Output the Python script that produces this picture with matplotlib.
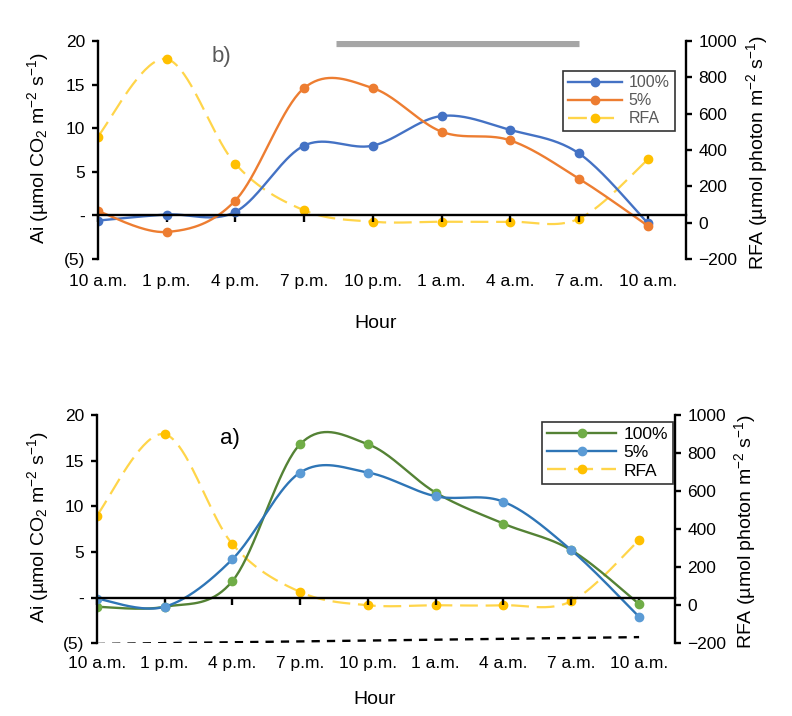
import numpy as np
import matplotlib
matplotlib.use("Agg")
import matplotlib.pyplot as plt
from matplotlib.lines import Line2D

plt.rcParams['font.family'] = ['Liberation Sans', 'DejaVu Sans']
plt.rcParams['mathtext.fontset'] = 'custom'
plt.rcParams['mathtext.rm'] = 'Liberation Sans'
plt.rcParams['mathtext.it'] = 'Liberation Sans:italic'

# categories
hours = ['10 a.m.', '1 p.m.', '4 p.m.', '7 p.m.', '10 p.m.', '1 a.m.', '4 a.m.', '7 a.m.', '10 a.m.']
ai_ticks = [-5, 0, 5, 10, 15, 20]
ai_ticklabels = ['(5)', '-', '5', '10', '15', '20']
rfa_ticks = [-200, 0, 200, 400, 600, 800, 1000]

# panel b (top)
b_100 = [-0.6, 0.1, 0.4, 8.0, 8.0, 11.4, 9.8, 7.1, -0.9]
b_5 = [0.5, -1.9, 1.7, 14.6, 14.6, 9.6, 8.6, 4.2, -1.2]
b_rfa = [474, 901, 324, 68, 5, 5, 5, 22, 348]
b_night = [3.46, 7.0]   # grey bar span (category units)

# panel a (bottom)
a_100 = [-1.0, -1.0, 1.8, 16.8, 16.8, 11.5, 8.1, 5.2, -0.7]
a_5 = [-0.1, -1.0, 4.2, 13.7, 13.7, 11.1, 10.5, 5.2, -2.1]
a_rfa = [471, 899, 322, 70, 0, 0, 0, 21, 343]
a_trend_x = [0, 8]
a_trend_y = [-5.07, -4.32]


def smooth(y, n=40):
    # Catmull-Rom style bezier like excel's smoothed lines
    x = np.arange(len(y), dtype=float)
    pts = np.column_stack([x, np.asarray(y, dtype=float)])
    p = np.vstack([pts[0], pts, pts[-1]])
    t = np.linspace(0, 1, n)[:, None]
    segs = []
    for i in range(len(pts) - 1):
        p0, p1, p2, p3 = p[i], p[i + 1], p[i + 2], p[i + 3]
        c1 = p1 + (p2 - p0) / 6
        c2 = p2 - (p3 - p1) / 6
        segs.append((1 - t) ** 3 * p1 + 3 * (1 - t) ** 2 * t * c1 + 3 * (1 - t) * t ** 2 * c2 + t ** 3 * p2)
    c = np.vstack(segs)
    return c[:, 0], c[:, 1]


def panel(rect, s100, s5, rfa, c100, m100, c5, m5, xmax, txtcol, legfs, legbox, hlen,
          tag, tagpos, hourpos, ylx, yrx):
    ax = fig.add_axes(rect)
    ax2 = ax.twinx()
    ax.set_zorder(ax2.get_zorder() + 1)
    ax.patch.set_visible(False)

    x = np.arange(len(hours))
    rfa_line = '#FFD54A'
    rfa_mark = '#FFC000'
    sx, sy = smooth(rfa)
    ax2.plot(sx, sy, color=rfa_line, lw=1.6, dashes=(8, 3.5))
    ax2.plot(x, rfa, 'o', color=rfa_mark, ms=6)

    for s, lc, mc in [(s100, c100, m100), (s5, c5, m5)]:
        sx, sy = smooth(s)
        ax.plot(sx, sy, color=lc, lw=1.7)
        ax.plot(x, s, 'o', color=mc, ms=6)

    ax.set_xlim(0, xmax)
    ax.set_ylim(-5, 20)
    ax2.set_ylim(-200, 1000)

    for a in (ax, ax2):
        for sp in a.spines.values():
            sp.set_linewidth(1.7)
            sp.set_color('black')
        a.spines['top'].set_visible(False)
    ax.spines['right'].set_visible(False)
    ax2.spines['left'].set_visible(False)
    ax2.spines['bottom'].set_visible(False)
    ax.spines['bottom'].set_position(('data', 0))

    ax.set_xticks(x)
    ax.set_xticklabels(hours)
    ax.tick_params(axis='x', direction='out', length=5, width=1.7, pad=37, labelsize=12.5)
    ax.set_yticks(ai_ticks)
    ax.set_yticklabels(ai_ticklabels)
    ax.tick_params(axis='y', direction='out', length=4, width=1.7, labelsize=12.5, pad=5)
    ax2.set_yticks(rfa_ticks)
    ax2.tick_params(axis='y', direction='out', length=4, width=1.7, labelsize=12.5, pad=5)

    ax.text(ylx, 0.51, 'Ai (µmol CO$_2$ m$^{-2}$ s$^{-1}$)', transform=ax.transAxes,
            rotation=90, ha='center', va='center', fontsize=14)
    ax.text(yrx, 0.49, 'RFA (µmol photon m$^{-2}$ s$^{-1}$)', transform=ax.transAxes,
            rotation=90, ha='center', va='center', fontsize=14)
    ax.text(hourpos[0], hourpos[1], 'Hour', transform=ax.transAxes,
            ha='center', va='center', fontsize=14)
    ax.text(tagpos[0], tagpos[1], tag, transform=ax.transAxes, ha='center', va='center',
            fontsize=16, color=txtcol)

    handles = [
        Line2D([], [], color=c100, lw=1.7, marker='o', ms=6, mfc=m100, mec=m100),
        Line2D([], [], color=c5, lw=1.7, marker='o', ms=6, mfc=m5, mec=m5),
        Line2D([], [], color=rfa_line, lw=1.7, dashes=(8, 3.5), marker='o', ms=6,
               mfc=rfa_mark, mec=rfa_mark),
    ]
    leg = ax.legend(handles, ['100%', '5%', 'RFA'], loc='upper right', bbox_to_anchor=legbox,
                    borderaxespad=0, frameon=True, fancybox=False, fontsize=legfs,
                    handlelength=hlen, handletextpad=0.4, labelspacing=0.18, borderpad=0.3,
                    numpoints=1)
    leg.get_frame().set_edgecolor('black')
    leg.get_frame().set_linewidth(1.2)
    for t in leg.get_texts():
        t.set_color(txtcol)
    return ax, ax2


fig = plt.figure(figsize=(7.92, 7.16), dpi=100)

axb, axb2 = panel([0.1234, 0.6383, 0.7424, 0.3044], b_100, b_5, b_rfa,
                  '#4472C4', '#4472C4', '#ED7D31', '#ED7D31', 8.55, '#595959', 11.5,
                  (0.981, 0.864), 3.4, 'b)', (0.211, 0.931), (0.472, -0.294), -0.1015, 1.121)
axb.plot(b_night, [19.76, 19.76], color='#A6A6A6', lw=5.2, solid_capstyle='butt', zorder=5)

axa, axa2 = panel([0.1221, 0.1015, 0.7302, 0.3189], a_100, a_5, a_rfa,
                  '#548235', '#70AD47', '#2E75B6', '#5B9BD5', 8.53, 'black', 12.5,
                  (0.9966, 0.971), 4.0, 'a)', (0.2305, 0.895), (0.481, -0.248), -0.1015, 1.121)
axa.plot(a_trend_x, a_trend_y, color='black', lw=1.7, dashes=(3.5, 3))

fig.savefig('out.png', dpi=100)
